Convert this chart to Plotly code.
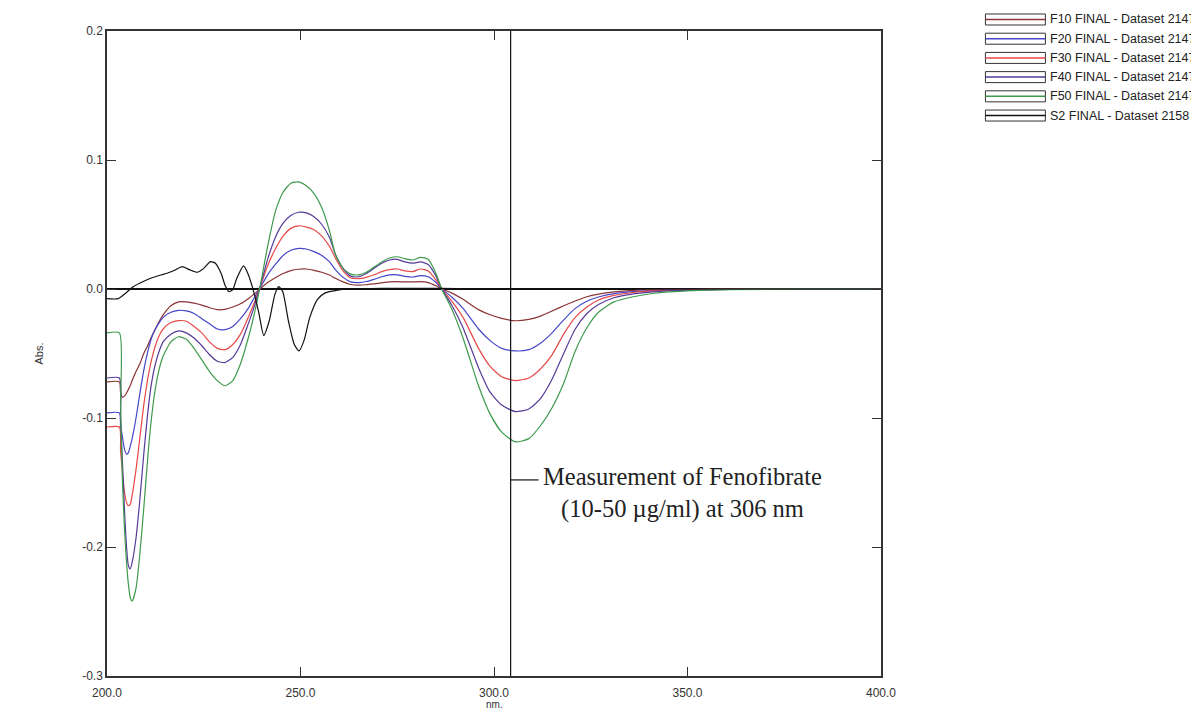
import plotly.graph_objects as go

# ---------------- data ----------------
wavelength = [200, 203.2, 203.5, 204, 204.5, 205, 205.5, 206, 206.5,
              207.5, 208.5, 209.5, 210.5, 211.5, 212.5, 213.5, 214.5,
              216.5, 218.5, 220.5, 222.5, 224.5, 226.5, 228.5, 230.5, 232.5, 234.5, 236.5, 238, 239.5,
              241.5, 243.5, 245.5, 247.5, 249.5, 251.5, 253.5, 255.5, 257.5, 259, 261, 263, 265, 267,
              269, 271, 273, 275, 277, 279, 281, 283, 285, 286.5,
              289, 292, 296, 299, 302, 305.5, 309, 312, 315, 318, 321, 324, 327, 331, 336, 341,
              351, 361, 380, 400]

f10 = [-0.072, -0.072, -0.080, -0.084, -0.083, -0.081, -0.078, -0.075, -0.071,
       -0.064, -0.058, -0.050, -0.044, -0.037, -0.031, -0.025, -0.020,
       -0.013, -0.010, -0.010, -0.011, -0.0125, -0.0145, -0.016, -0.0158, -0.014, -0.0115, -0.0075, -0.004, 0.0,
       0.005, 0.0088, 0.012, 0.0143, 0.0153, 0.0155, 0.0145, 0.013, 0.0108, 0.0083, 0.0055, 0.0035, 0.003, 0.0033,
       0.004, 0.0048, 0.0055, 0.0057, 0.0055, 0.0055, 0.0057, 0.005, 0.0025, 0.0,
       -0.003, -0.008, -0.016, -0.020, -0.0228, -0.0246, -0.0235, -0.021, -0.017, -0.013, -0.0093, -0.006, -0.004, -0.0023, -0.0011, -0.0005,
       -0.0002, 0.0, 0.0, 0.0]

f20 = [-0.096, -0.096, -0.105, -0.115, -0.124, -0.128, -0.127, -0.122, -0.116,
       -0.100, -0.081, -0.063, -0.049, -0.038, -0.031, -0.026, -0.022,
       -0.018, -0.0165, -0.017, -0.019, -0.023, -0.027, -0.031, -0.0315, -0.029, -0.023, -0.015, -0.007, 0.0005,
       0.011, 0.019, 0.026, 0.030, 0.0315, 0.031, 0.029, 0.026, 0.021, 0.015, 0.009, 0.0055, 0.005, 0.0058,
       0.0075, 0.0095, 0.011, 0.011, 0.0098, 0.0093, 0.0104, 0.0095, 0.005, 0.0,
       -0.006, -0.015, -0.031, -0.040, -0.046, -0.048, -0.047, -0.042, -0.034, -0.024, -0.015, -0.0095, -0.0062, -0.0036, -0.002, -0.0012,
       -0.0005, -0.0002, 0.0, 0.0]

f30 = [-0.107, -0.107, -0.125, -0.142, -0.157, -0.165, -0.168, -0.167, -0.160,
       -0.140, -0.115, -0.090, -0.070, -0.055, -0.044, -0.036, -0.031,
       -0.026, -0.0245, -0.025, -0.029, -0.034, -0.041, -0.046, -0.047, -0.043, -0.035, -0.022, -0.011, 0.001,
       0.018, 0.031, 0.041, 0.047, 0.049, 0.048, 0.046, 0.041, 0.033, 0.024, 0.014, 0.0085, 0.008, 0.009,
       0.011, 0.0135, 0.015, 0.0155, 0.014, 0.0135, 0.0155, 0.014, 0.007, 0.0,
       -0.009, -0.022, -0.046, -0.060, -0.068, -0.071, -0.069, -0.062, -0.051, -0.035, -0.022, -0.014, -0.0085, -0.005, -0.0027, -0.0015,
       -0.0006, -0.0002, 0.0, 0.0]

f40 = [-0.069, -0.069, -0.100, -0.135, -0.170, -0.198, -0.214, -0.217, -0.212,
       -0.193, -0.163, -0.128, -0.097, -0.073, -0.058, -0.048, -0.041,
       -0.035, -0.0325, -0.034, -0.038, -0.044, -0.051, -0.056, -0.057, -0.053, -0.043, -0.027, -0.014, 0.001,
       0.023, 0.040, 0.051, 0.057, 0.0595, 0.059, 0.056, 0.050, 0.040, 0.027, 0.016, 0.010, 0.0095, 0.012,
       0.016, 0.020, 0.0225, 0.023, 0.021, 0.020, 0.021, 0.019, 0.010, 0.0,
       -0.012, -0.030, -0.061, -0.080, -0.090, -0.095, -0.093, -0.085, -0.070, -0.050, -0.031, -0.019, -0.012, -0.0068, -0.0038, -0.0022,
       -0.0009, -0.0004, -0.0001, 0.0]

f50 = [-0.034, -0.034, -0.090, -0.150, -0.185, -0.210, -0.228, -0.239, -0.242,
       -0.232, -0.205, -0.170, -0.132, -0.100, -0.077, -0.062, -0.052,
       -0.041, -0.037, -0.039, -0.046, -0.055, -0.064, -0.071, -0.075, -0.071, -0.058, -0.038, -0.020, 0.001,
       0.033, 0.060, 0.075, 0.082, 0.083, 0.080, 0.074, 0.063, 0.045, 0.027, 0.016, 0.0115, 0.011, 0.013,
       0.017, 0.021, 0.024, 0.025, 0.0235, 0.0225, 0.0245, 0.023, 0.012, 0.0,
       -0.015, -0.038, -0.075, -0.097, -0.111, -0.1185, -0.116, -0.106, -0.092, -0.073, -0.048, -0.030, -0.018, -0.010, -0.006, -0.0035,
       -0.0013, -0.0005, -0.0001, 0.0]

s2_wavelength = [200, 202.9, 204.5, 206.8, 209.5, 212, 215.5, 217.5, 219.4, 221.3, 223.3, 225, 226.7, 228,
                 229.5, 230.5, 231.5, 232.5, 233.5, 235.3, 236.4, 237.9, 239.2, 240.5, 241.9, 243.4, 244.4,
                 245.4, 246.9, 248.4, 249.6, 250.9, 252.4, 254.4, 256.4, 259.3, 263.2, 271, 286, 301, 400]
s2 = [-0.0075, -0.0075, -0.004, 0.0018, 0.006, 0.0091, 0.0122, 0.0145, 0.0173, 0.015, 0.013, 0.016, 0.0212, 0.020,
      0.012, 0.003, -0.002, -0.0005, 0.008, 0.0179, 0.012, -0.002, -0.018, -0.036, -0.025, -0.004, 0.0018,
      -0.002, -0.025, -0.043, -0.048, -0.040, -0.022, -0.008, -0.003, -0.001, 0.0, 0.0005, 0.0005, 0.0, 0.0]

series_names = ["F10 FINAL - Dataset 2147", "F20 FINAL - Dataset 2147", "F30 FINAL - Dataset 2147",
                "F40 FINAL - Dataset 2147", "F50 FINAL - Dataset 2147", "S2 FINAL - Dataset 2158"]
series_colors = ["#8B3434", "#4545C8", "#E84848", "#553A98", "#3E9A4C", "#111111"]

x_ticks = [200, 250, 300, 350, 400]
x_ticktext = ["200.0", "250.0", "300.0", "350.0", "400.0"]
y_ticks = [-0.3, -0.2, -0.1, 0.0, 0.1, 0.2]
y_ticktext = ["-0.3", "-0.2", "-0.1", "0.0", "0.1", "0.2"]

cursor_nm = 304.3
annotation_text = "Measurement of Fenofibrate<br>(10-50 µg/ml) at 306 nm"

# ---------------- figure ----------------
# the page body adds an 8px offset; positions below are given in page pixels
OFF = 8
W, H = 1199, 711
ML, MT = 107 - OFF, 31 - OFF
PLOT_R, PLOT_B = 881.5 - OFF, 675.7 - OFF
MR, MB = W - PLOT_R, H - PLOT_B
PW, PH = PLOT_R - ML, PLOT_B - MT


def px2paper_x(page_px):
    return (page_px - OFF - ML) / PW


def px2paper_y(page_py):
    return (PLOT_B - (page_py - OFF)) / PH


fig = go.Figure()
f_series = [f10, f20, f30, f40, f50]
for name, vals, col in zip(series_names[:5], f_series, series_colors[:5]):
    fig.add_trace(go.Scatter(x=wavelength, y=vals, mode="lines", name=name,
                             line=dict(color=col, width=1.2, shape="spline", smoothing=0.6),
                             showlegend=False, hoverinfo="skip"))
fig.add_trace(go.Scatter(x=s2_wavelength, y=s2, mode="lines", name=series_names[5],
                         line=dict(color=series_colors[5], width=1.2, shape="spline", smoothing=0.6),
                         showlegend=False, hoverinfo="skip"))

axis_common = dict(showgrid=False, ticks="inside", ticklen=9, tickwidth=1.3, tickcolor="#333",
                   showline=True, linecolor="#333", linewidth=1.5, mirror="ticks",
                   tickfont=dict(family="Liberation Sans, Arial", size=12, color="#333"))

fig.update_layout(
    width=W, height=H,
    margin=dict(l=ML, r=MR, t=MT, b=MB, pad=0),
    paper_bgcolor="white", plot_bgcolor="white",
    xaxis=dict(range=[200, 400], tickvals=x_ticks, ticktext=x_ticktext, zeroline=False,
               ticklabelstandoff=5, **axis_common),
    yaxis=dict(range=[-0.3, 0.2], tickvals=y_ticks, ticktext=y_ticktext,
               zeroline=True, zerolinecolor="#111", zerolinewidth=1.6, **axis_common),
    showlegend=False,
)

# cursor line and pointer
fig.add_shape(type="line", xref="x", yref="y", x0=cursor_nm, x1=cursor_nm, y0=-0.3, y1=0.2,
              line=dict(color="#111", width=1.2))
fig.add_shape(type="line", xref="x", yref="y", x0=cursor_nm, x1=cursor_nm + 7.2, y0=-0.148, y1=-0.148,
              line=dict(color="#111", width=1.2))
fig.add_annotation(x=348.8, y=-0.1585, xref="x", yref="y", text=annotation_text, showarrow=False,
                   align="center", xanchor="center", yanchor="middle",
                   font=dict(family="Liberation Serif, Times New Roman", size=24.5, color="#222"))

# axis titles
fig.add_annotation(x=0.5, y=px2paper_y(704), xref="paper", yref="paper", text="nm.", showarrow=False,
                   font=dict(family="Liberation Sans, Arial", size=10, color="#333"), yanchor="middle")
fig.add_annotation(x=px2paper_x(38), y=0.5, xref="paper", yref="paper", text="Abs.", showarrow=False,
                   textangle=-90, font=dict(family="Liberation Sans, Arial", size=11, color="#333"),
                   xanchor="center", yanchor="middle")

# boxed legend (top right)
for i, (name, col) in enumerate(zip(series_names, series_colors)):
    cy = 19.5 + i * 19.2
    fig.add_shape(type="rect", xref="paper", yref="paper",
                  x0=px2paper_x(986), x1=px2paper_x(1046), y0=px2paper_y(cy - 5.5), y1=px2paper_y(cy + 5.5),
                  line=dict(color="#333", width=1), fillcolor="white")
    fig.add_shape(type="line", xref="paper", yref="paper",
                  x0=px2paper_x(986), x1=px2paper_x(1046), y0=px2paper_y(cy), y1=px2paper_y(cy),
                  line=dict(color=col, width=1.5))
    fig.add_annotation(x=px2paper_x(1049), y=px2paper_y(cy), xref="paper", yref="paper", text=name,
                       showarrow=False, xanchor="left", yanchor="middle",
                       font=dict(family="Liberation Sans, Arial", size=12.5, color="#222"))

fig.write_html("out.html")
